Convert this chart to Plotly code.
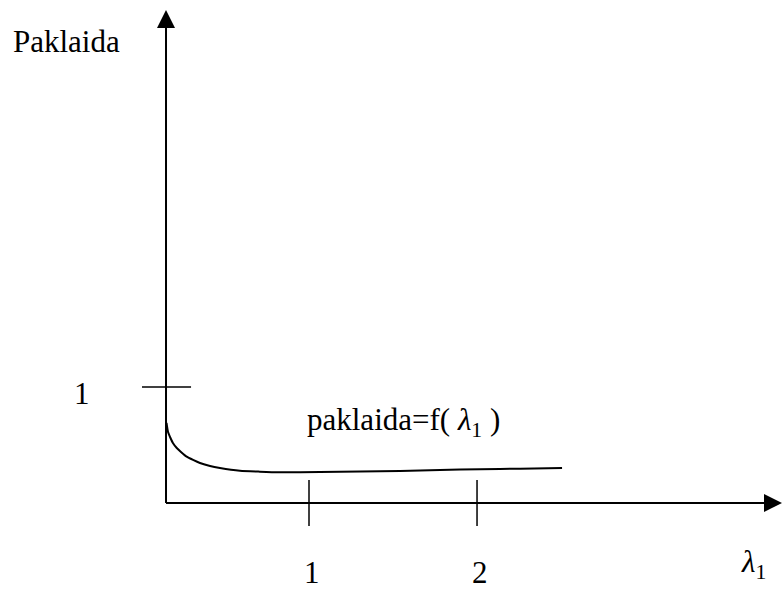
import plotly.graph_objects as go

# ---- data ----
# curve paklaida = f(lambda_1)
curve_x = [0.152, 0.161, 0.173, 0.190, 0.213, 0.238, 0.272, 0.310, 0.351, 0.411,
           0.470, 0.589, 0.708, 0.827, 1.065, 1.304, 1.542, 1.780, 2.018, 2.256, 2.506]
curve_y = [0.690, 0.612, 0.569, 0.517, 0.474, 0.440, 0.399, 0.371, 0.345, 0.319,
           0.302, 0.278, 0.270, 0.265, 0.267, 0.272, 0.276, 0.284, 0.291, 0.296, 0.302]

x_ticks = [1, 2]
x_tick_labels = ["1", "2"]
y_ticks = [1]
y_tick_labels = ["1"]

origin_x = 0.149      # where the vertical axis stands
y_axis_top = 4.25     # tip of vertical arrow
x_axis_end = 3.815    # tip of horizontal arrow
tick_half = 0.198     # half length of x ticks (in y units)
ytick_left = 0.006
ytick_right = 0.298

x_range = [-0.839, 3.815]
y_range = [-0.776, 4.336]

FONT = "Liberation Serif, Times New Roman, serif"

fig = go.Figure()

# axes
fig.add_trace(go.Scatter(x=[origin_x, origin_x], y=[0, y_axis_top - 0.05], mode="lines",
                         line=dict(color="black", width=2), hoverinfo="skip"))
fig.add_trace(go.Scatter(x=[origin_x, x_axis_end - 0.03], y=[0, 0], mode="lines",
                         line=dict(color="black", width=2), hoverinfo="skip"))
# arrow heads
fig.add_trace(go.Scatter(x=[origin_x], y=[y_axis_top], mode="markers",
                         marker=dict(symbol="arrow-up", size=18, color="black",
                                     line=dict(width=0)), hoverinfo="skip", cliponaxis=False))
fig.add_trace(go.Scatter(x=[x_axis_end], y=[0], mode="markers",
                         marker=dict(symbol="arrow-right", size=18, color="black",
                                     line=dict(width=0)), hoverinfo="skip", cliponaxis=False))

# x ticks
for xv in x_ticks:
    fig.add_trace(go.Scatter(x=[xv, xv], y=[-tick_half, tick_half], mode="lines",
                             line=dict(color="black", width=1.5), hoverinfo="skip"))
# y tick
for yv in y_ticks:
    fig.add_trace(go.Scatter(x=[ytick_left, ytick_right], y=[yv, yv], mode="lines",
                             line=dict(color="black", width=1.5), hoverinfo="skip"))

# curve
fig.add_trace(go.Scatter(x=curve_x, y=curve_y, mode="lines",
                         line=dict(color="black", width=2, shape="spline", smoothing=0.6),
                         hoverinfo="skip"))

annots = []
for xv, lab in zip(x_ticks, x_tick_labels):
    annots.append(dict(x=xv + 0.018, y=-0.595, text=lab, showarrow=False,
                       font=dict(family=FONT, size=31, color="black")))
for yv, lab in zip(y_ticks, y_tick_labels):
    annots.append(dict(x=-0.351, y=yv - 0.06, text=lab, showarrow=False,
                       font=dict(family=FONT, size=31, color="black")))
annots.append(dict(x=-0.446, y=3.974, text="Paklaida", showarrow=False,
                   font=dict(family=FONT, size=31, color="black")))
annots.append(dict(x=1.565, y=0.70, text="paklaida=f( <i>λ</i><sub>1</sub> )", showarrow=False,
                   font=dict(family=FONT, size=31, color="black")))
annots.append(dict(x=3.643, y=-0.526, text="<i>λ</i><sub>1</sub>", showarrow=False,
                   font=dict(family=FONT, size=31, color="black")))

fig.update_layout(
    width=782, height=593,
    margin=dict(l=0, r=0, t=0, b=0),
    paper_bgcolor="white", plot_bgcolor="white",
    showlegend=False,
    xaxis=dict(range=x_range, visible=False, fixedrange=True),
    yaxis=dict(range=y_range, visible=False, fixedrange=True),
    annotations=annots,
)

fig.write_html("out.html", config={"displayModeBar": False},
               post_script="document.body.style.margin='0';document.body.style.padding='0';"
                           "document.body.style.overflow='hidden';")
